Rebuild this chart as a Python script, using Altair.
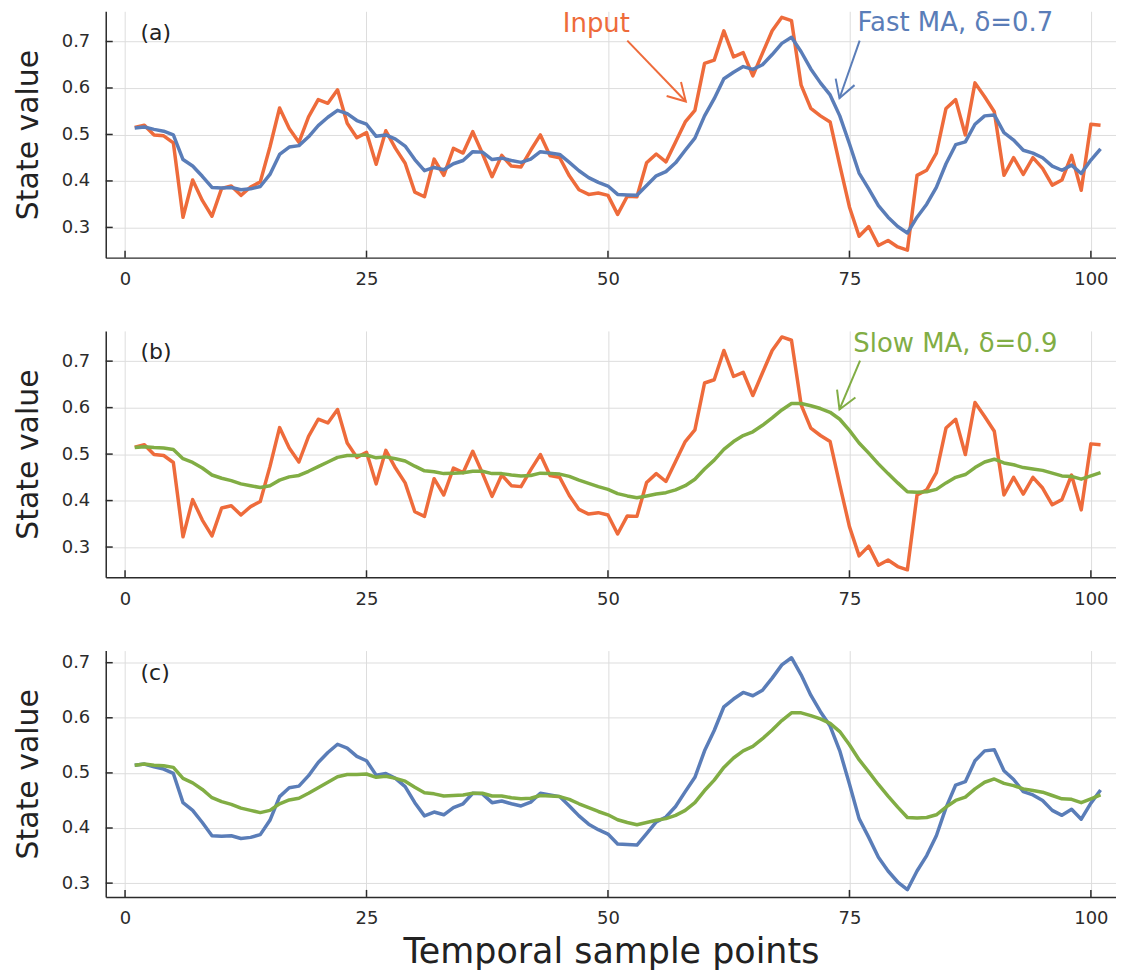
import altair as alt
import pandas as pd

# ---------------- data ----------------
t = list(range(1, 102))

input_vals = [
    0.515, 0.520, 0.499, 0.497, 0.482, 0.322, 0.402, 0.358, 0.324, 0.384,
    0.389, 0.369, 0.387, 0.398, 0.473, 0.557, 0.513, 0.483, 0.538, 0.575,
    0.567, 0.596, 0.524, 0.493, 0.504, 0.436, 0.508, 0.470, 0.438, 0.376,
    0.366, 0.447, 0.412, 0.470, 0.460, 0.506, 0.459, 0.409, 0.455, 0.432,
    0.430, 0.466, 0.499, 0.454, 0.450, 0.411, 0.381, 0.371, 0.374, 0.369,
    0.328, 0.367, 0.366, 0.439, 0.458, 0.441, 0.484, 0.527, 0.552, 0.653,
    0.660, 0.723, 0.667, 0.676, 0.626, 0.675, 0.723, 0.752, 0.745, 0.606,
    0.556, 0.540, 0.527, 0.434, 0.344, 0.281, 0.302, 0.261, 0.272, 0.258,
    0.251, 0.412, 0.423, 0.460, 0.556, 0.575, 0.499, 0.611, 0.581, 0.549,
    0.412, 0.450, 0.414, 0.450, 0.427, 0.391, 0.402, 0.455, 0.380, 0.522,
    0.520,
]

fast_vals = [
    0.514, 0.516, 0.511, 0.507, 0.499, 0.446, 0.432, 0.410, 0.386, 0.385,
    0.386, 0.381, 0.383, 0.388, 0.414, 0.457, 0.473, 0.476, 0.495, 0.519,
    0.537, 0.552, 0.545, 0.530, 0.522, 0.496, 0.499, 0.490, 0.475, 0.446,
    0.422, 0.429, 0.424, 0.437, 0.444, 0.463, 0.462, 0.446, 0.449, 0.444,
    0.440, 0.447, 0.463, 0.460, 0.457, 0.440, 0.422, 0.407, 0.397, 0.389,
    0.371, 0.370, 0.369, 0.390, 0.411, 0.420, 0.439, 0.466, 0.492, 0.540,
    0.577, 0.620, 0.634, 0.646, 0.640, 0.650, 0.672, 0.696, 0.709, 0.678,
    0.641, 0.611, 0.585, 0.540, 0.480, 0.417, 0.383, 0.347, 0.322, 0.302,
    0.288, 0.322, 0.350, 0.386, 0.437, 0.478, 0.484, 0.522, 0.540, 0.542,
    0.504, 0.488, 0.466, 0.460, 0.450, 0.432, 0.423, 0.434, 0.416, 0.445,
    0.469,
]

slow_vals = [
    0.514, 0.516, 0.514, 0.513, 0.510, 0.490, 0.482, 0.470, 0.455, 0.448,
    0.443, 0.436, 0.432, 0.428, 0.432, 0.444, 0.451, 0.454, 0.463, 0.473,
    0.483, 0.493, 0.497, 0.497, 0.498, 0.492, 0.494, 0.490, 0.485, 0.474,
    0.464, 0.462, 0.458, 0.459, 0.460, 0.463, 0.463, 0.458, 0.458, 0.455,
    0.453, 0.454, 0.459, 0.458, 0.457, 0.452, 0.444, 0.437, 0.430, 0.424,
    0.415, 0.410, 0.406, 0.410, 0.414, 0.417, 0.423, 0.432, 0.446, 0.468,
    0.487, 0.510, 0.527, 0.540, 0.548, 0.562, 0.578, 0.595, 0.609, 0.609,
    0.604, 0.598, 0.590, 0.575, 0.551, 0.524, 0.502, 0.479, 0.458, 0.438,
    0.419, 0.418, 0.419, 0.424, 0.438, 0.450, 0.456, 0.471, 0.483, 0.489,
    0.481, 0.477, 0.471, 0.468, 0.465, 0.459, 0.453, 0.452, 0.446, 0.453,
    0.460,
]

x_ticks = [0, 25, 50, 75, 100]
y_ticks = [0.3, 0.4, 0.5, 0.6, 0.7]

panel_tags = ["(a)", "(b)", "(c)"]
tag_x = [1.6, 1.6, 1.6]
tag_y = [0.719, 0.720, 0.682]

# annotations: text label + arrow (start -> tip), for panel a (two) and b (one)
ann_panel = ["a", "a", "b"]
ann_text = ["Input", "Fast MA, δ=0.7", "Slow MA, δ=0.9"]
ann_x = [48.8, 85.97, 85.97]
ann_y = [0.738, 0.740, 0.737]
arrow_x0 = [52.0, 76.06, 76.10]
arrow_y0 = [0.702, 0.702, 0.701]
arrow_x1 = [58.06, 73.97, 73.97]
arrow_y1 = [0.571, 0.578, 0.596]
arrow_angle = [136, 199, 203]

# ---------------- styling ----------------
ORANGE = "#ee6b3b"
BLUE = "#5a7db8"
GREEN = "#81ad44"
AXIS_COLOR = "#2b2b2b"
FONT = "DejaVu Sans"

W, H = 1013, 247
x_domain = [-2, 102.6]
y_dom_ab = [0.235, 0.765]
y_dom_c = [0.275, 0.722]
SERIES_COLORS = {"input": ORANGE, "fast": BLUE, "slow": GREEN}

df = pd.DataFrame({"t": t, "input": input_vals, "fast": fast_vals, "slow": slow_vals})
ann_df = pd.DataFrame({
    "panel": ann_panel, "text": ann_text, "tx": ann_x, "ty": ann_y,
    "x0": arrow_x0, "y0": arrow_y0, "x1": arrow_x1, "y1": arrow_y1,
    "angle": arrow_angle,
})
ann_colors = [ORANGE, BLUE, GREEN]

CHEVRON = "M -0.5 0.866 L 0 0 L 0.5 0.866"


def panel(idx, series, ydom, xtitle):
    xs = alt.Scale(domain=x_domain, nice=False, zero=False)
    ys = alt.Scale(domain=ydom, nice=False, zero=False)
    xaxis = alt.Axis(values=x_ticks, title=xtitle, ticks=False, labelPadding=13,
                     titlePadding=7, format="d")
    yaxis = alt.Axis(values=y_ticks, title="State value", ticks=False, labelPadding=16,
                     titlePadding=18, format=".1f")

    def X(field):
        return alt.X(f"{field}:Q", scale=xs, axis=xaxis)

    def Y(field):
        return alt.Y(f"{field}:Q", scale=ys, axis=yaxis)

    layers = []
    for s in series:
        layers.append(
            alt.Chart(df).mark_line(color=SERIES_COLORS[s], strokeWidth=3.5, strokeJoin="round")
            .encode(x=X("t"), y=Y(s))
        )

    # inward ticks
    layers.append(
        alt.Chart(pd.DataFrame({"xt": x_ticks})).mark_rule(color=AXIS_COLOR, strokeWidth=1.5)
        .encode(x=X("xt"), y=alt.value(H), y2=alt.value(H - 7))
    )
    layers.append(
        alt.Chart(pd.DataFrame({"yt": y_ticks})).mark_rule(color=AXIS_COLOR, strokeWidth=1.5)
        .encode(y=Y("yt"), x=alt.value(0), x2=alt.value(7))
    )

    # panel tag
    layers.append(
        alt.Chart(pd.DataFrame({"x": [tag_x[idx]], "y": [tag_y[idx]], "s": [panel_tags[idx]]}))
        .mark_text(font=FONT, fontSize=22, color="#222222", align="left", baseline="middle")
        .encode(x=X("x"), y=Y("y"), text="s:N")
    )

    key = "abc"[idx]
    for i in range(len(ann_text)):
        if ann_panel[i] != key:
            continue
        sub = ann_df.iloc[[i]]
        col = ann_colors[i]
        layers.append(
            alt.Chart(sub).mark_text(font=FONT, fontSize=26, color=col, align="center",
                                     baseline="middle")
            .encode(x=X("tx"), y=Y("ty"), text="text:N")
        )
        layers.append(
            alt.Chart(sub).mark_rule(color=col, strokeWidth=2)
            .encode(x=X("x0"), y=Y("y0"), x2="x1:Q", y2="y1:Q")
        )
        layers.append(
            alt.Chart(sub).mark_point(shape=CHEVRON, filled=False, color=col, strokeWidth=2,
                                      size=1600, opacity=1, angle=float(arrow_angle[i]))
            .encode(x=X("x1"), y=Y("y1"))
        )

    return alt.layer(*layers).properties(width=W, height=H)


pa = panel(0, ["input", "fast"], y_dom_ab, "")
pb = panel(1, ["input", "slow"], y_dom_ab, "")
pc = panel(2, ["fast", "slow"], y_dom_c, "Temporal sample points")

chart = (
    alt.vconcat(pa, pb, pc, spacing=73.5, bounds="flush")
    .properties(padding={"left": 5, "top": 0, "right": 0, "bottom": 0})
    .configure_view(stroke=None)
    .configure_axis(
        labelFont=FONT, titleFont=FONT, labelFontSize=18, labelColor="#2b2b2b",
        titleColor="#222222", titleFontWeight="normal",
        domainColor=AXIS_COLOR, domainWidth=1.5,
        gridColor="#dddddd", gridWidth=1,
    )
    .configure_axisY(titleFontSize=30)
    .configure_axisX(titleFontSize=35)
)

chart.save("out.html", embed_options={"renderer": "svg", "actions": False})
